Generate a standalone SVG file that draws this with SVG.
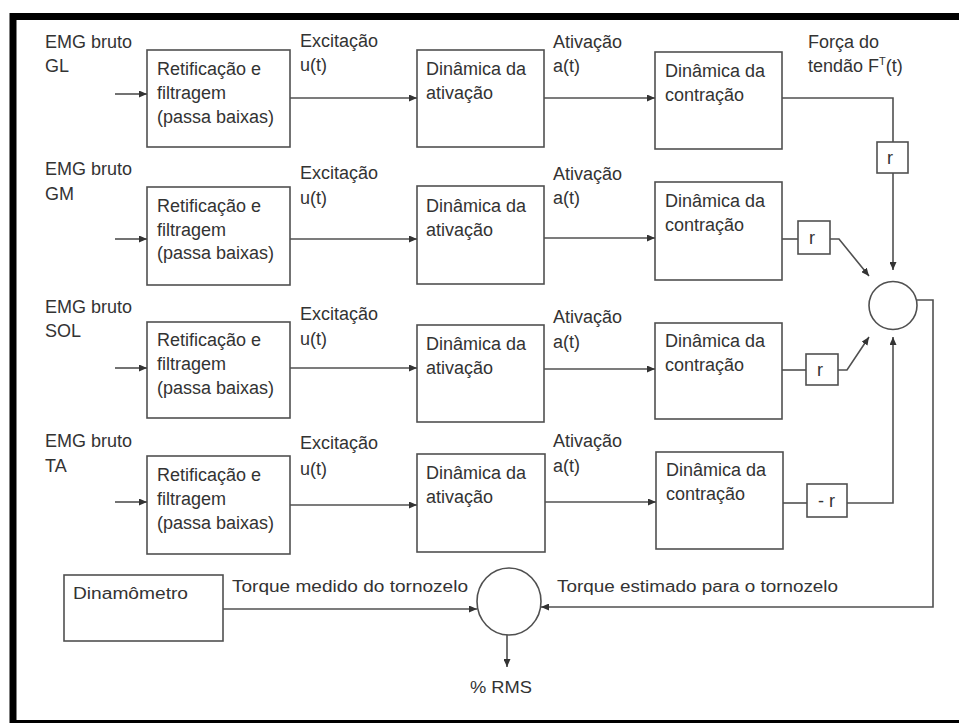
<svg xmlns="http://www.w3.org/2000/svg" width="959" height="723" viewBox="0 0 959 723">
<style>
.box{fill:#fff;stroke:#505050;stroke-width:1.6}
.t{font-family:"Liberation Sans",Arial,sans-serif;font-size:18px;fill:#333}
.b{font-family:"Liberation Sans",Arial,sans-serif;font-size:16px;fill:#333}
.ln{fill:none;stroke:#505050;stroke-width:1.6}
.ar{fill:none;stroke:#505050;stroke-width:1.6;marker-end:url(#ah)}
</style>
<defs>
<marker id="ah" markerUnits="userSpaceOnUse" markerWidth="8" markerHeight="7" refX="8" refY="3.5" orient="auto">
<path d="M0,0 L8,3.5 L0,7 z" fill="#333"/>
</marker>
</defs>
<rect x="0" y="0" width="959" height="723" fill="#fff"/>
<rect x="13" y="16.5" width="970" height="707" fill="none" stroke="#000" stroke-width="7"/>

<g id="labels">
<text class="t" x="45" y="48">EMG bruto</text><text class="t" x="45" y="72">GL</text>
<text class="t" x="300" y="47">Excitação</text><text class="t" x="300" y="71">u(t)</text>
<text class="t" x="553" y="48">Ativação</text><text class="t" x="553" y="72">a(t)</text>
<text class="t" x="808" y="48">Força do</text><text class="t" x="808" y="72">tendão F<tspan dy="-7" font-size="11">T</tspan><tspan dy="7">(t)</tspan></text>

<text class="t" x="45" y="175">EMG bruto</text><text class="t" x="45" y="200">GM</text>
<text class="t" x="300" y="179">Excitação</text><text class="t" x="300" y="204">u(t)</text>
<text class="t" x="553" y="180">Ativação</text><text class="t" x="553" y="204">a(t)</text>

<text class="t" x="45" y="313">EMG bruto</text><text class="t" x="45" y="337">SOL</text>
<text class="t" x="300" y="320">Excitação</text><text class="t" x="300" y="345">u(t)</text>
<text class="t" x="553" y="323">Ativação</text><text class="t" x="553" y="348">a(t)</text>

<text class="t" x="45" y="447">EMG bruto</text><text class="t" x="45" y="472">TA</text>
<text class="t" x="300" y="449">Excitação</text><text class="t" x="300" y="475">u(t)</text>
<text class="t" x="553" y="447">Ativação</text><text class="t" x="553" y="472">a(t)</text>

<text class="b" x="232" y="592" textLength="236" lengthAdjust="spacingAndGlyphs">Torque medido do tornozelo</text>
<text class="b" x="557" y="592" textLength="281" lengthAdjust="spacingAndGlyphs">Torque estimado para o tornozelo</text>
<text class="b" x="470" y="693" textLength="62" lengthAdjust="spacingAndGlyphs">% RMS</text>
</g>

<g id="filtro-gl"><rect class="box" x="147" y="50" width="143" height="97"/>
<text class="t" x="157" y="75">Retificação e</text><text class="t" x="157" y="99">filtragem</text><text class="t" x="157" y="123">(passa baixas)</text></g>
<g id="ativ-gl"><rect class="box" x="417" y="50" width="127" height="97"/>
<text class="t" x="426" y="75">Dinâmica da</text><text class="t" x="426" y="99">ativação</text></g>
<g id="contr-gl"><rect class="box" x="655" y="52" width="127" height="97"/>
<text class="t" x="665" y="77">Dinâmica da</text><text class="t" x="665" y="101">contração</text></g>
<g id="r-gl"><rect class="box" x="877" y="142" width="31" height="31"/><text class="t" x="887" y="164">r</text></g>

<g id="filtro-gm"><rect class="box" x="147" y="187" width="143" height="98"/>
<text class="t" x="157" y="212">Retificação e</text><text class="t" x="157" y="236">filtragem</text><text class="t" x="157" y="259">(passa baixas)</text></g>
<g id="ativ-gm"><rect class="box" x="417" y="186" width="127" height="98"/>
<text class="t" x="426" y="212">Dinâmica da</text><text class="t" x="426" y="236">ativação</text></g>
<g id="contr-gm"><rect class="box" x="655" y="182" width="127" height="98"/>
<text class="t" x="665" y="207">Dinâmica da</text><text class="t" x="665" y="231">contração</text></g>
<g id="r-gm"><rect class="box" x="798" y="221" width="32" height="33"/><text class="t" x="809" y="244">r</text></g>

<g id="filtro-sol"><rect class="box" x="147" y="322" width="143" height="96"/>
<text class="t" x="157" y="346">Retificação e</text><text class="t" x="157" y="370">filtragem</text><text class="t" x="157" y="394">(passa baixas)</text></g>
<g id="ativ-sol"><rect class="box" x="417" y="325" width="127" height="97"/>
<text class="t" x="426" y="350">Dinâmica da</text><text class="t" x="426" y="374">ativação</text></g>
<g id="contr-sol"><rect class="box" x="655" y="323" width="127" height="96"/>
<text class="t" x="665" y="347">Dinâmica da</text><text class="t" x="665" y="371">contração</text></g>
<g id="r-sol"><rect class="box" x="806" y="354" width="32" height="31"/><text class="t" x="817" y="376">r</text></g>

<g id="filtro-ta"><rect class="box" x="147" y="456" width="143" height="98"/>
<text class="t" x="157" y="481">Retificação e</text><text class="t" x="157" y="505">filtragem</text><text class="t" x="157" y="529">(passa baixas)</text></g>
<g id="ativ-ta"><rect class="box" x="417" y="454" width="128" height="98"/>
<text class="t" x="426" y="479">Dinâmica da</text><text class="t" x="426" y="503">ativação</text></g>
<g id="contr-ta"><rect class="box" x="656" y="452" width="127" height="97"/>
<text class="t" x="666" y="476">Dinâmica da</text><text class="t" x="666" y="500">contração</text></g>
<g id="r-ta"><rect class="box" x="807" y="484" width="40" height="33"/><text class="t" x="818" y="507">- r</text></g>

<g id="soma"><circle class="box" cx="893" cy="305.5" r="24"/></g>
<g id="comparador"><ellipse class="box" cx="509" cy="601.5" rx="32" ry="33.5"/></g>
<g id="dinamometro"><rect class="box" x="64" y="575" width="159" height="66"/>
<text class="b" x="73" y="599" textLength="115" lengthAdjust="spacingAndGlyphs">Dinamômetro</text></g>

<g id="connectors">
<path class="ar" d="M115,94 H147"/>
<path class="ar" d="M290,98 H417"/>
<path class="ar" d="M544,98 H655"/>
<path class="ln" d="M782,98 H893 V142"/>
<path class="ar" d="M893,173 V270"/>

<path class="ar" d="M115,239 H147"/>
<path class="ar" d="M290,239 H417"/>
<path class="ar" d="M544,238 H655"/>
<path class="ln" d="M782,239 H798"/>
<path class="ar" d="M830,239 H839 L869,276"/>

<path class="ar" d="M115,368 H147"/>
<path class="ar" d="M290,368 H417"/>
<path class="ar" d="M544,369 H655"/>
<path class="ln" d="M782,370 H806"/>
<path class="ar" d="M838,370 H847 L869,337"/>

<path class="ar" d="M115,502 H147"/>
<path class="ar" d="M290,505 H417"/>
<path class="ar" d="M545,502 H656"/>
<path class="ln" d="M783,503 H807"/>
<path class="ar" d="M847,503 H893 V337"/>

<path class="ar" d="M916.5,300 H933 V607 H541"/>
<path class="ar" d="M223,609 H477"/>
<path class="ar" d="M507,635 V667"/>
</g>
</svg>
